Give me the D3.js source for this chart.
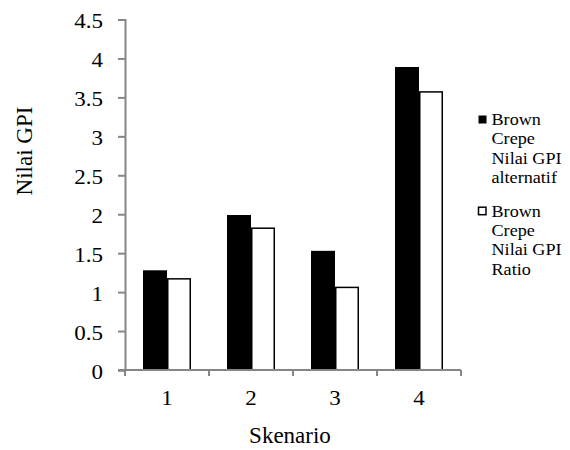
<!DOCTYPE html>
<html>
<head>
<meta charset="utf-8">
<script src="https://cdn.jsdelivr.net/npm/d3@7"></script>
</head>
<body style="margin:0;padding:0;background:#fff">
<svg id="chart" width="570" height="450"></svg>
<script>
const categories = ["1", "2", "3", "4"];
const seriesNames = ["Brown Crepe Nilai GPI alternatif", "Brown Crepe Nilai GPI Ratio"];
const alternatifValues = [1.28, 1.99, 1.53, 3.89];
const ratioValues = [1.18, 1.83, 1.07, 3.58];
const yTicks = [0, 0.5, 1, 1.5, 2, 2.5, 3, 3.5, 4, 4.5];
const legendLines = [["Brown", "Crepe", "Nilai GPI", "alternatif"], ["Brown", "Crepe", "Nilai GPI", "Ratio"]];

const FONT = "'Liberation Serif'";
const svg = d3.select("#chart");
const plotLeft = 125, plotRight = 461, plotTop = 19.5, plotBottom = 370;
const axisColor = "#868686";
const tickStretch = 1.15, legendStretch = 1.1;

const x0 = d3.scaleBand().domain(categories).range([plotLeft, plotRight]).padding(0);
const x1 = d3.scaleBand().domain([0, 1]).range([0, x0.bandwidth()]).paddingInner(0).paddingOuter(0.75);
const y = d3.scaleLinear().domain([0, 4.5]).range([plotBottom, plotTop]);

const data = categories.map((c, i) => ({ cat: c, vals: [alternatifValues[i], ratioValues[i]] }));
const fills = ["#000", "#fff"];

// bars
const groups = svg.append("g").selectAll("g").data(data).join("g")
  .attr("transform", d => `translate(${x0(d.cat)},0)`);
groups.selectAll("rect").data(d => d.vals.map((v, k) => ({ v, k }))).join("rect")
  .attr("x", d => x1(d.k) + (d.k === 1 ? 0.75 : 0))
  .attr("width", d => x1.bandwidth() - (d.k === 1 ? 1.5 : 0))
  .attr("y", d => y(d.v) + (d.k === 1 ? 0.75 : 0))
  .attr("height", d => plotBottom - y(d.v) - (d.k === 1 ? 0.75 : 0))
  .attr("fill", d => fills[d.k])
  .attr("stroke", d => d.k === 1 ? "#000" : "none")
  .attr("stroke-width", 1.5);

// y axis
const yAxis = d3.axisLeft(y).tickValues(yTicks).tickSize(7).tickPadding(15)
  .tickFormat(d => String(d));
const gy = svg.append("g").attr("transform", `translate(${plotLeft},0)`).call(yAxis);
gy.attr("font-family", "Liberation Serif").attr("font-size", 20);
gy.select(".domain").attr("stroke", axisColor).attr("stroke-width", 2);
gy.selectAll(".tick line").attr("stroke", axisColor).attr("stroke-width", 2);
gy.selectAll(".tick text")
  .style("font-family", FONT).style("font-size", "20px")
  .attr("fill", "#000")
  .attr("x", -22 / tickStretch)
  .attr("dy", "0.42em")
  .attr("transform", `scale(${tickStretch},1)`);

// x axis: ticks at category boundaries
const xAxisG = svg.append("g").attr("transform", `translate(0,${plotBottom})`);
xAxisG.append("line").attr("x1", plotLeft - 7).attr("x2", plotRight).attr("y1", 0).attr("y2", 0)
  .attr("stroke", axisColor).attr("stroke-width", 2);
const boundaries = categories.map(c => x0(c)).concat([x0(categories[categories.length - 1]) + x0.bandwidth()]);
xAxisG.selectAll("line.b").data(boundaries).join("line").attr("class", "b")
  .attr("x1", d => d).attr("x2", d => d).attr("y1", 0).attr("y2", 6)
  .attr("stroke", axisColor).attr("stroke-width", 2);
xAxisG.selectAll("text").data(categories).join("text")
  .attr("transform", d => `translate(${x0(d) + x0.bandwidth() / 2},35) scale(${tickStretch},1)`)
  .attr("text-anchor", "middle")
  .style("font-family", FONT).style("font-size", "20px").attr("fill", "#000")
  .text(d => d);

// axis titles
svg.append("text").attr("transform", `translate(31.5,151) rotate(-90)`)
  .attr("text-anchor", "middle")
  .style("font-family", FONT).style("font-size", "23px").attr("fill", "#000")
  .text("Nilai GPI");
svg.append("text").attr("x", 290).attr("y", 443)
  .attr("text-anchor", "middle")
  .style("font-family", FONT).style("font-size", "23px").attr("fill", "#000")
  .text("Skenario");

// legend
const legend = svg.append("g");
const legendTop = [125, 216.7];
const lineH = 19.3;
legendLines.forEach((lines, k) => {
  const g = legend.append("g");
  g.append("rect")
    .attr("x", 478.5).attr("y", legendTop[k] - 9.5)
    .attr("width", k === 1 ? 7.5 : 8).attr("height", k === 1 ? 7.5 : 8)
    .attr("fill", fills[k]).attr("stroke", k === 1 ? "#000" : "none").attr("stroke-width", 1.5);
  const t = g.append("text")
    .attr("transform", `translate(491.5,${legendTop[k]}) scale(${legendStretch},1)`)
    .style("font-family", FONT).style("font-size", "16.5px").attr("fill", "#000");
  lines.forEach((ln, j) => {
    t.append("tspan").attr("x", 0).attr("y", j * lineH).text(ln);
  });
});
</script>
</body>
</html>
